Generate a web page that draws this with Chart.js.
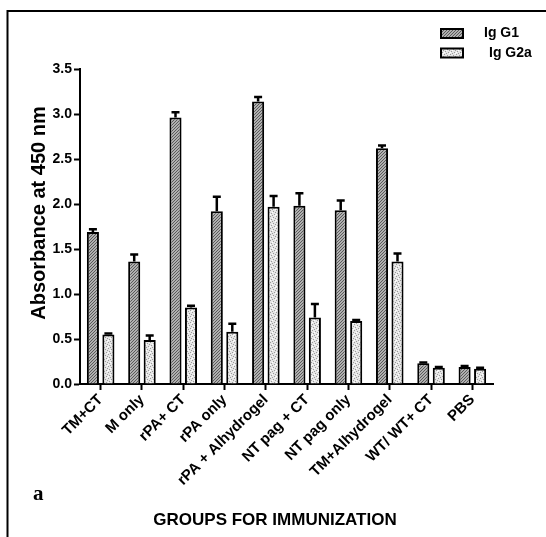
<!DOCTYPE html>
<html>
<head>
<meta charset="utf-8">
<script src="https://cdn.jsdelivr.net/npm/chart.js@4/dist/chart.umd.min.js"></script>
<style>
  html, body { margin: 0; padding: 0; background: #fff; }
  #wrap { width: 546px; height: 537px; position: relative; }
</style>
</head>
<body>
<div id="wrap"><canvas id="c" width="546" height="537"></canvas></div>
<script>
// Immunization groups and mean absorbance readings (with SEM) per antibody isotype
const groups = ['TM+CT', 'M only', 'rPA+ CT', 'rPA only', 'rPA + Alhydrogel',
                'NT pag + CT', 'NT pag only', 'TM+Alhydrogel', 'WT/ WT+ CT', 'PBS'];
const igG1 = [1.69, 1.36, 2.96, 1.92, 3.14, 1.98, 1.93, 2.62, 0.23, 0.19];
const igG1Err = [0.03, 0.08, 0.06, 0.16, 0.05, 0.14, 0.11, 0.03, 0.01, 0.01];
const igG2a = [0.55, 0.49, 0.85, 0.58, 1.97, 0.74, 0.70, 1.36, 0.18, 0.17];
const igG2aErr = [0.01, 0.05, 0.02, 0.09, 0.12, 0.15, 0.01, 0.09, 0.01, 0.01];
const yTicks = [0, 0.5, 1.0, 1.5, 2.0, 2.5, 3.0, 3.5];

const FONT = "'Liberation Sans', Arial, sans-serif";

// Fill textures: diagonal hatch for IgG1, fine stipple for IgG2a
function hatchPattern() {
  const t = document.createElement('canvas');
  t.width = 6; t.height = 6;
  const g = t.getContext('2d');
  g.fillStyle = '#b0b0b0';
  g.fillRect(0, 0, 6, 6);
  g.strokeStyle = '#5a5a5a';
  g.lineWidth = 1;
  for (let k = -6; k <= 12; k += 3) {
    g.beginPath();
    g.moveTo(k, 6);
    g.lineTo(k + 6, 0);
    g.stroke();
  }
  return g.createPattern(t, 'repeat');
}
function stipplePattern() {
  const t = document.createElement('canvas');
  t.width = 6; t.height = 6;
  const g = t.getContext('2d');
  g.fillStyle = '#e6e6e6';
  g.fillRect(0, 0, 6, 6);
  g.fillStyle = '#9a9a9a';
  const dots = [[0,0],[3,1],[1,3],[4,4],[2,5],[5,2]];
  dots.forEach(([x, y]) => g.fillRect(x, y, 1, 1));
  g.fillStyle = '#ffffff';
  [[2,2],[5,5],[0,4]].forEach(([x, y]) => g.fillRect(x, y, 1, 1));
  return g.createPattern(t, 'repeat');
}

const errors = [igG1Err, igG2aErr];

// Upper error whiskers with caps
const errorBars = {
  id: 'errorBars',
  afterDatasetsDraw(chart) {
    const ctx = chart.ctx;
    const y = chart.scales.y;
    ctx.save();
    ctx.strokeStyle = '#000';
    ctx.lineWidth = 2.5;
    chart.data.datasets.forEach((ds, di) => {
      const meta = chart.getDatasetMeta(di);
      meta.data.forEach((bar, i) => {
        const top = y.getPixelForValue(ds.data[i] + errors[di][i]);
        ctx.beginPath();
        ctx.moveTo(bar.x, bar.y);
        ctx.lineTo(bar.x, top);
        ctx.moveTo(bar.x - 4, top);
        ctx.lineTo(bar.x + 4, top);
        ctx.stroke();
      });
    });
    ctx.restore();
  }
};

// Frame, axis titles, panel letter and legend
const decorations = {
  id: 'decorations',
  afterDraw(chart) {
    const ctx = chart.ctx;
    ctx.save();
    ctx.strokeStyle = '#000';
    ctx.lineWidth = 2;
    ctx.beginPath();
    ctx.moveTo(7.5, 537);
    ctx.lineTo(7.5, 11);
    ctx.lineTo(546, 11);
    ctx.stroke();

    ctx.fillStyle = '#000';
    ctx.font = "bold 17px " + FONT;
    ctx.textAlign = 'center';
    ctx.textBaseline = 'alphabetic';
    ctx.fillText('GROUPS FOR IMMUNIZATION', 275, 525);

    ctx.save();
    ctx.translate(45, 213);
    ctx.rotate(-Math.PI / 2);
    ctx.font = "bold 20px " + FONT;
    ctx.textBaseline = 'alphabetic';
    ctx.fillText('Absorbance at 450 nm', 0, 0);
    ctx.restore();

    ctx.font = "bold 21px 'Liberation Serif', 'Times New Roman', serif";
    ctx.textAlign = 'left';
    ctx.fillText('a', 33, 500);

    const items = [
      { label: 'Ig G1', fill: chart.data.datasets[0].backgroundColor, y: 33.5, tx: 484 },
      { label: 'Ig G2a', fill: chart.data.datasets[1].backgroundColor, y: 53, tx: 489 }
    ];
    items.forEach(it => {
      ctx.fillStyle = it.fill;
      ctx.fillRect(441, it.y - 4.5, 22, 9);
      ctx.strokeStyle = '#000';
      ctx.lineWidth = 2;
      ctx.strokeRect(441, it.y - 4.5, 22, 9);
      ctx.fillStyle = '#000';
      ctx.font = "bold 14px " + FONT;
      ctx.textBaseline = 'middle';
      ctx.fillText(it.label, it.tx, it.y);
    });
    ctx.restore();
  }
};

new Chart(document.getElementById('c'), {
  type: 'bar',
  data: {
    labels: groups,
    datasets: [
      { label: 'Ig G1', data: igG1, backgroundColor: hatchPattern(),
        borderColor: '#000', borderWidth: 2, borderSkipped: 'bottom' },
      { label: 'Ig G2a', data: igG2a, backgroundColor: stipplePattern(),
        borderColor: '#000', borderWidth: 2, borderSkipped: 'bottom' }
    ]
  },
  options: {
    responsive: false,
    animation: false,
    devicePixelRatio: 1,
    categoryPercentage: 0.75,
    barPercentage: 0.78,
    layout: { padding: { left: 0, top: 69, right: 53, bottom: 0 } },
    plugins: { legend: { display: false }, tooltip: { enabled: false } },
    scales: {
      x: {
        afterFit(s) { s.height = 153; },
        grid: { display: true, drawOnChartArea: false, offset: false,
                tickLength: 6, tickWidth: 2, tickColor: '#000' },
        border: { display: true, color: '#000', width: 2 },
        ticks: {
          autoSkip: false, minRotation: 45, maxRotation: 45, padding: 1,
          color: '#000', font: { family: FONT, size: 15, weight: 'bold' }
        }
      },
      y: {
        min: 0, max: 3.5,
        afterFit(s) { s.width = 80; },
        afterBuildTicks(s) { s.ticks = yTicks.map(v => ({ value: v })); },
        grid: { display: true, drawOnChartArea: false,
                tickLength: 6, tickWidth: 2, tickColor: '#000' },
        border: { display: true, color: '#000', width: 2 },
        ticks: {
          padding: 2, color: '#000',
          font: { family: FONT, size: 14, weight: 'bold' },
          callback: v => Number(v).toFixed(1)
        }
      }
    }
  },
  plugins: [errorBars, decorations]
});
</script>
</body>
</html>
